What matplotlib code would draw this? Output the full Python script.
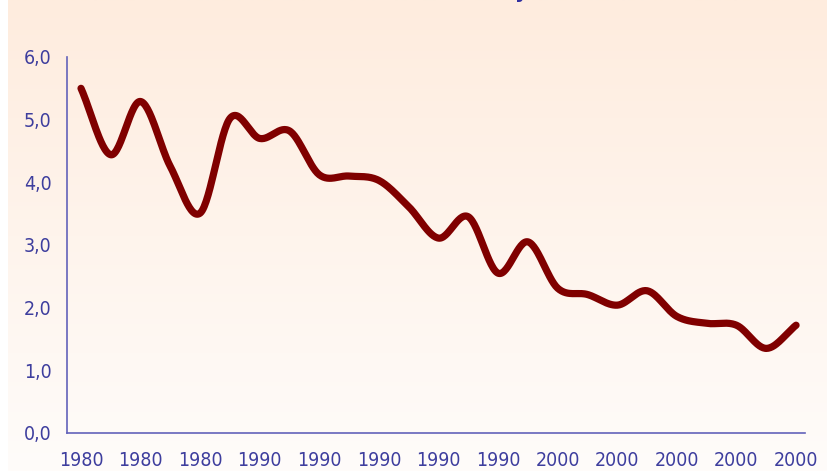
import numpy as np
import matplotlib
matplotlib.use("Agg")
import matplotlib.pyplot as plt
from matplotlib import font_manager

# ---- data ----
values = [5.50, 4.44, 5.29, 4.25, 3.51, 5.02, 4.70, 4.82, 4.12, 4.10, 4.03, 3.61,
          3.11, 3.45, 2.55, 3.05, 2.31, 2.21, 2.04, 2.27, 1.86, 1.75, 1.72, 1.35, 1.72]
tick_labels = ['1980', '1980', '1980', '1990', '1990', '1990', '1990', '1990',
               '2000', '2000', '2000', '2000', '2000']
y_ticks = [0, 1, 2, 3, 4, 5, 6]
y_tick_labels = ['0,0', '1,0', '2,0', '3,0', '4,0', '5,0', '6,0']

# pick a condensed font if available
fl = font_manager.fontManager.ttflist
stretch = 'normal'
if any(f.name == 'Liberation Sans Narrow' for f in fl):
    fam = 'Liberation Sans Narrow'
elif any(f.name == 'DejaVu Sans' and f.stretch in ('condensed', 'semi-condensed', 600, 500) for f in fl):
    fam = 'DejaVu Sans'
    stretch = 'condensed'
else:
    fam = 'Liberation Sans'
plt.rcParams['font.family'] = [fam, 'DejaVu Sans']
plt.rcParams['font.stretch'] = stretch

axis_col = '#6262BA'
text_col = '#3E3E9E'
line_col = '#800000'

fig = plt.figure(figsize=(8.3, 4.71), dpi=100, facecolor='white')

# gradient background panel
bg = fig.add_axes([8/830, 0, (826-8)/830, 1], zorder=0)
top = np.array([254, 236, 222]) / 255
bot = np.array([255, 252, 250]) / 255
t = np.linspace(0, 1, 256)[:, None]
grad = (bot * (1 - t) + top * t)[:, None, :]
bg.imshow(grad, aspect='auto', origin='lower', extent=[0, 1, 0, 1])
bg.set_axis_off()

ax = fig.add_axes([67/830, 38/471, (805-67)/830, (433-57)/471], zorder=1)
ax.patch.set_alpha(0)

# Catmull-Rom smoothing of the series for display
y = np.asarray(values, dtype=float)
n = len(y)
xs, ys = [], []
P = np.concatenate([[y[0] - (y[1] - y[0])], y, [y[-1] + (y[-1] - y[-2])]])
for i in range(n - 1):
    p0, p1, p2, p3 = P[i], P[i + 1], P[i + 2], P[i + 3]
    s = np.linspace(0, 1, 30, endpoint=False)
    seg = 0.5 * ((2 * p1) + (-p0 + p2) * s + (2 * p0 - 5 * p1 + 4 * p2 - p3) * s**2
                 + (-p0 + 3 * p1 - 3 * p2 + p3) * s**3)
    xs.append(i + s)
    ys.append(seg)
xs.append([n - 1]); ys.append([y[-1]])
xs = np.concatenate(xs); ys = np.concatenate(ys)

ax.plot(xs, ys, color=line_col, lw=5.2, solid_capstyle='round', solid_joinstyle='round')

ax.set_xlim(-0.47, 24.3)
ax.set_ylim(0, 6)
ax.set_xticks(np.arange(0, n, 2))
ax.set_xticklabels(tick_labels)
ax.set_yticks(y_ticks)
ax.set_yticklabels(y_tick_labels)
ax.tick_params(axis='both', length=0, colors=text_col, labelsize=14)
ax.tick_params(axis='x', pad=13)
ax.tick_params(axis='y', pad=11)
for sp in ['top', 'right']:
    ax.spines[sp].set_visible(False)
for sp in ['left', 'bottom']:
    ax.spines[sp].set_color(axis_col)
    ax.spines[sp].set_linewidth(1.2)

# title cut off at the top edge (only a descender visible)
fig.text(521/830, 1 + 2/471, 'y', color='#3030A0', fontsize=16, fontweight='bold',
         ha='center', va='baseline')

fig.savefig('out.png', dpi=100, facecolor='white')
